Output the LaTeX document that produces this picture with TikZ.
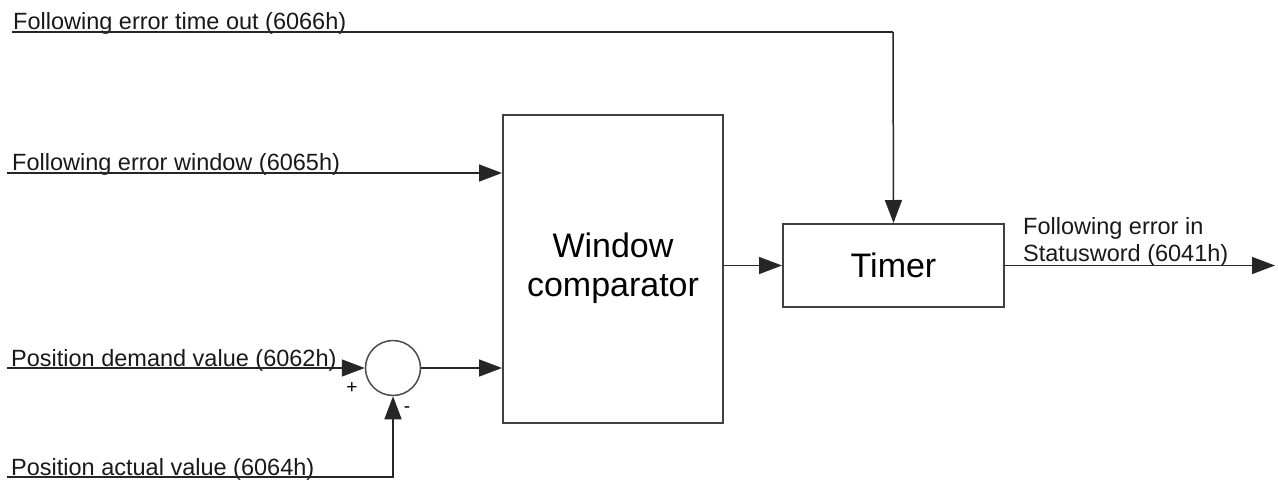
\documentclass[tikz,border=0pt]{standalone}
\usepackage{fontspec}
\setmainfont{Liberation Sans}
\usetikzlibrary{arrows.meta}
\begin{document}
\begin{tikzpicture}[x=1pt,y=-1pt,
  lbl/.style={inner sep=0pt, anchor=base west, font=\fontsize{23.5}{27}\selectfont, text=black!90},
  blk/.style={draw=black!75, line width=2pt, inner sep=0pt},
  conn/.style={line width=1.5pt, draw=black!85, -{Triangle[length=23pt,width=17pt]}},
  wire/.style={line width=1.5pt, draw=black!85}]
\useasboundingbox (0,0) rectangle (1278,482);
% blocks
\node[blk, minimum width=220pt, minimum height=308pt, align=center,
      font=\fontsize{34}{39}\selectfont] (wc) at (613,268.5) {Window\\comparator};
\node[blk, minimum width=221pt, minimum height=83pt,
      font=\fontsize{34}{39}\selectfont] (timer) at (893.5,265.5) {Timer};
\node[draw=black!70, line width=1.5pt, circle, minimum size=55pt, inner sep=0pt] (sum) at (393,368) {};
% labels
\node[lbl] (l1) at (13,29.5) {Following error time out (6066h)};
\node[lbl] (l2) at (12,170.5) {Following error window (6065h)};
\node[lbl] (l3) at (11,366) {Position demand value (6062h)};
\node[lbl] (l4) at (11,475.5) {Position actual value (6064h)};
\node[lbl, align=left] (l5) at (1023,261.5) {Following error in\\Statusword (6041h)};
\node[inner sep=0pt, font=\fontsize{19}{19}\selectfont] (plus) at (352,388) {+};
\node[inner sep=0pt, font=\fontsize{19}{19}\selectfont] (minus) at (407,410) {-};
% coordinates
\coordinate (tin) at (12,32);
\coordinate (tc) at (893,32);
\coordinate (win) at (7,173);
\coordinate (pdin) at (7,368);
\coordinate (pain) at (7,477);
\coordinate (out) at (1275,265.5);
% connectors
\draw[wire] (tin) -- (tc);
\draw[conn] (tc) -- (timer.north);
\draw[conn] (win) -- (win -| wc.west);
\draw[conn] (pdin) -- (sum.west);
\draw[conn] (pain) -| (sum.south);
\draw[conn] (sum.east) -- (sum.east -| wc.west);
\draw[conn] (timer.west -| wc.east) -- (timer.west);
\draw[conn] (timer.east) -- (out);
\end{tikzpicture}
\end{document}
